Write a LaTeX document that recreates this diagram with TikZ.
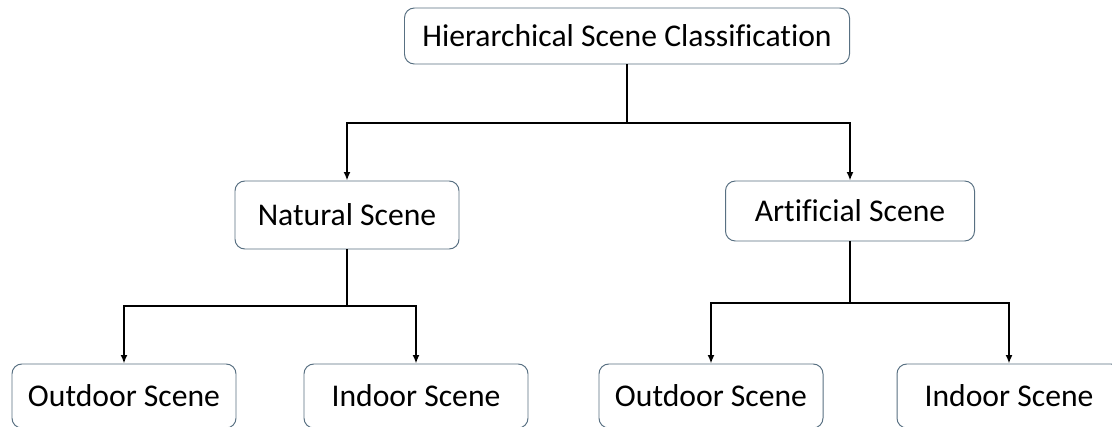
\documentclass[tikz,border=0pt]{standalone}
\usepackage{fontspec}
\setmainfont[Ligatures=NoCommon]{Carlito}
\usetikzlibrary{arrows.meta}
\definecolor{boxline}{RGB}{88,112,130}
\tikzset{
    scenebox/.style={draw=boxline,line width=.7pt,rounded corners=7pt,fill=white,
        minimum width=224*0.025cm,minimum height=64*0.025cm,inner sep=0pt,
        font=\fontsize{22.5}{26}\selectfont},
    link/.style={line width=1.4pt}
}
\begin{document}
\begin{tikzpicture}[>={Latex[length=6pt,width=5pt]},x=0.025cm,y=0.025cm]
        \clip (0,0) rectangle (1112,427);
        \fill[white] (0,0) rectangle (1112,427);
        % levels
        \node[scenebox,minimum width=445*0.025cm,minimum height=56*0.025cm] (root) at (627,391){Hierarchical Scene Classification};
        \node[scenebox,minimum height=68*0.025cm] (nat) at (347,212){Natural Scene};
        \node[scenebox,minimum width=249*0.025cm,minimum height=60*0.025cm] (art) at (850,216){Artificial Scene};
        \node[scenebox] (natout) at (124,31){Outdoor Scene};
        \node[scenebox] (natin) at (416,31){Indoor Scene};
        \node[scenebox] (artout) at (711,31){Outdoor Scene};
        \node[scenebox] (artin) at (1009,31){Indoor Scene};
        % junctions
        \coordinate (j0) at (627,304);
        \coordinate (j1) at (347,121);
        \coordinate (j2) at (850,124);
        \draw[link] (root.south)--(j0);
        \draw[link,->] (j0)-|(nat.north);
        \draw[link,->] (j0)-|(art.north);
        \draw[link] (nat.south)--(j1);
        \draw[link,->] (j1)-|(natout.north);
        \draw[link,->] (j1)-|(natin.north);
        \draw[link] (art.south)--(j2);
        \draw[link,->] (j2)-|(artout.north);
        \draw[link,->] (j2)-|(artin.north);
    \end{tikzpicture}
\end{document}
